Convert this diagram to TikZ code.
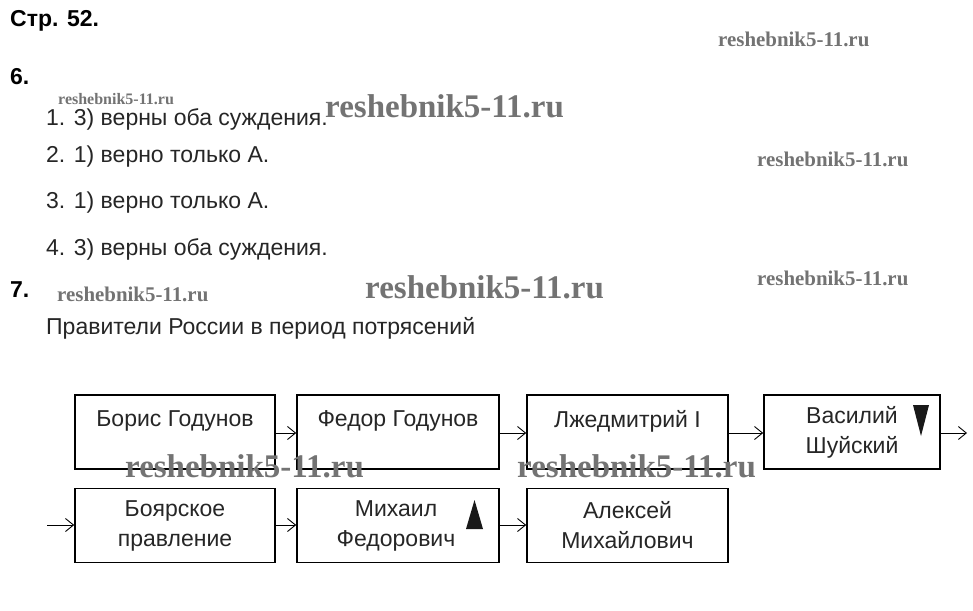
\documentclass[tikz,border=0pt]{standalone}
\usepackage{fontspec}
\setmainfont{Liberation Sans}
\newfontfamily\wmfont{Liberation Serif}
\usetikzlibrary{arrows.meta}
\begin{document}
\begin{tikzpicture}[x=1pt,y=-1pt,
  txt/.style={inner sep=0pt,font=\fontsize{23}{30}\selectfont,text=black!85},
  head/.style={inner sep=0pt,anchor=west,font=\fontsize{23}{26}\selectfont\bfseries},
  item/.style={inner sep=0pt,anchor=west,font=\fontsize{23}{26}\selectfont,text=black!85},
  box/.style={draw,line width=1.6pt,minimum width=#1,minimum height=74pt,inner sep=0pt},
  box/.default=200pt,
  conn/.style={line width=0.9pt,-{Straight Barb[length=8pt,width=13pt,line width=0.9pt]}},
  wmbig/.style={inner sep=0pt,anchor=west,text=black!55,font=\wmfont\bfseries\fontsize{33}{33}\selectfont},
  wmsmall/.style={inner sep=0pt,anchor=west,text=black!55,font=\wmfont\bfseries\fontsize{20.9}{21}\selectfont},
  wmtiny/.style={inner sep=0pt,anchor=west,text=black!55,font=\wmfont\bfseries\fontsize{16}{16}\selectfont},
  tri/.style={fill=black!90}]
\useasboundingbox[fill=white] (0,0) rectangle (973,610);

% headings and answers
\node[head] (h52) at (10,21) {Стр. 52.};
\node[head] (h6) at (10,77) {6.};
\node[item] (i1) at (46,119) {1. 3) верны оба суждения.};
\node[item] (i2) at (46,157) {2. 1) верно только А.};
\node[item] (i3) at (46,203) {3. 1) верно только А.};
\node[item] (i4) at (46,249) {4. 3) верны оба суждения.};
\node[head] (h7) at (10,290) {7.};
\node[item] (title) at (46,328) {Правители России в период потрясений};

% boxes row 1
\node[box] (b1) at (175,432) {};
\node[box=202pt] (b2) at (398,432) {};
\node[box=201pt] (b3) at (627.5,432) {};
\node[box=176pt] (b4) at (852,432) {};
\node[txt] (t1) at (175,421) {Борис Годунов};
\node[txt] (t2) at (398,421) {Федор Годунов};
\node[txt] (t3) at (627.5,421) {Лжедмитрий I};
\node[txt,align=center] (t4) at (852,432) {Василий\\Шуйский};
\fill[tri] (913,405) -- (929,405) -- (921,436) -- cycle;

% boxes row 2
\node[box] (b5) at (175,525.5) {};
\node[box=202pt] (b6) at (398,525.5) {};
\node[box=201pt] (b7) at (627.5,525.5) {};
\node[txt,align=center] (t5) at (175,525.5) {Боярское\\правление};
\node[txt,align=center] (t6) at (396,525.5) {Михаил\\Федорович};
\node[txt,align=center] (t7) at (627.5,525.5) {Алексей\\Михайлович};
\fill[tri] (466,529) -- (483,529) -- (474.5,500) -- cycle;

% connectors
\coordinate (out4) at (967,433);
\coordinate (in5) at (47,525);
\draw[conn] (b1.east |- 0,433) -- (b2.west |- 0,433);
\draw[conn] (b2.east |- 0,433) -- (b3.west |- 0,433);
\draw[conn] (b3.east |- 0,433) -- (b4.west |- 0,433);
\draw[conn] (b4.east |- 0,433) -- (out4);
\draw[conn] (in5) -- (b5.west |- 0,525);
\draw[conn] (b5.east |- 0,525) -- (b6.west |- 0,525);
\draw[conn] (b6.east |- 0,525) -- (b7.west |- 0,525);

% watermarks
\node[wmsmall] (w1) at (718,39) {reshebnik5-11.ru};
\node[wmtiny] (w2) at (58,99) {reshebnik5-11.ru};
\node[wmbig] (w3) at (325,106) {reshebnik5-11.ru};
\node[wmsmall] (w4) at (757,159) {reshebnik5-11.ru};
\node[wmsmall] (w5) at (757,278) {reshebnik5-11.ru};
\node[wmsmall] (w6) at (57,294) {reshebnik5-11.ru};
\node[wmbig] (w7) at (365,287) {reshebnik5-11.ru};
\node[wmbig] (w8) at (125,466) {reshebnik5-11.ru};
\node[wmbig] (w9) at (517,466) {reshebnik5-11.ru};
\end{tikzpicture}
\end{document}
